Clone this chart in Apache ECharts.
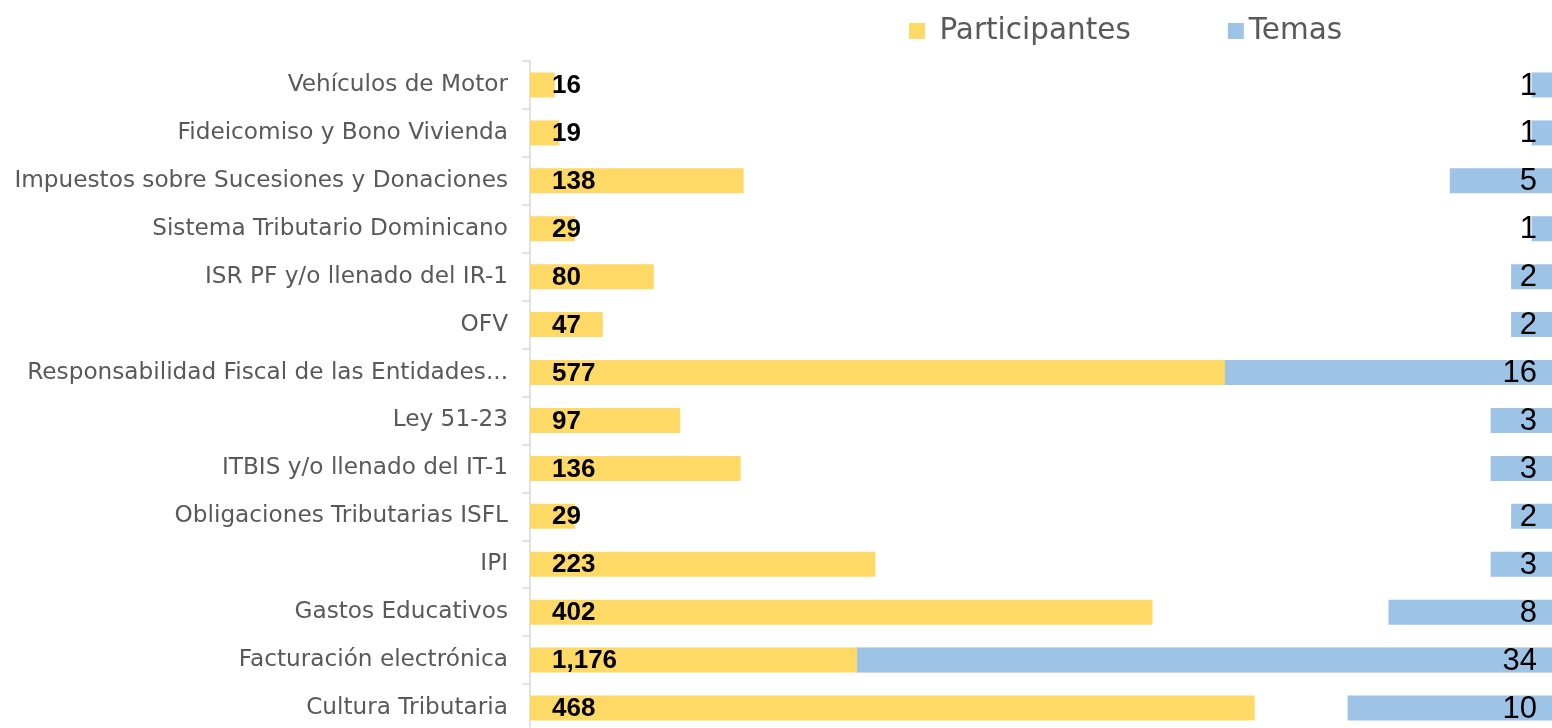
<!DOCTYPE html>
<html>
<head>
<meta charset="utf-8">
<script src="https://cdn.jsdelivr.net/npm/echarts@6/dist/echarts.min.js"></script>
<style>
html,body{margin:0;padding:0;background:#fff;overflow:hidden;}
#chart{width:1552px;height:740px;}
</style>
</head>
<body>
<div id="chart"></div>
<script>
const categories = [
  "Vehículos de Motor",
  "Fideicomiso y Bono Vivienda",
  "Impuestos sobre Sucesiones y Donaciones",
  "Sistema Tributario Dominicano",
  "ISR PF y/o llenado del IR-1",
  "OFV",
  "Responsabilidad Fiscal de las Entidades...",
  "Ley 51-23",
  "ITBIS y/o llenado del IT-1",
  "Obligaciones Tributarias ISFL",
  "IPI",
  "Gastos Educativos",
  "Facturación electrónica",
  "Cultura Tributaria"
];
const participantes = [16, 19, 138, 29, 80, 47, 577, 97, 136, 29, 223, 402, 1176, 468];
const temas = [1, 1, 5, 1, 2, 2, 16, 3, 3, 2, 3, 8, 34, 10];

const chart = echarts.init(document.getElementById('chart'), null, {renderer: 'canvas'});
chart.setOption({
  animation: false,
  backgroundColor: '#ffffff',
  legend: {
    data: ['Participantes', 'Temas'],
    left: 904,
    top: 11,
    icon: 'rect',
    itemWidth: 16,
    itemHeight: 16,
    itemGap: 97,
    formatter: function (n) { return n === 'Participantes' ? ' ' + n : n; },
    textStyle: {fontFamily: 'DejaVu Sans', fontSize: 29.5, color: '#595959'}
  },
  grid: {left: 530, right: 0, top: 61, height: 671, containLabel: false},
  xAxis: [
    {type: 'value', min: 0, max: 660, show: false},
    {type: 'value', min: 0, max: 50, inverse: true, show: false}
  ],
  yAxis: {
    type: 'category',
    data: categories,
    inverse: true,
    axisLine: {show: true, lineStyle: {color: '#D9D9D9', width: 1.5}},
    axisTick: {show: true, length: 8, lineStyle: {color: '#D9D9D9', width: 1.5}},
    axisLabel: {fontFamily: 'DejaVu Sans', fontSize: 23.2, color: '#595959', margin: 22, padding: [3, 0, 0, 0]}
  },
  series: [
    {
      name: 'Participantes',
      type: 'bar',
      xAxisIndex: 0,
      data: participantes,
      barWidth: 25,
      barGap: '-100%',
      itemStyle: {color: '#FFD966'},
      z: 2,
      label: {
        show: true,
        position: 'insideLeft',
        distance: 22,
        offset: [0, 1],
        fontFamily: 'Liberation Sans',
        fontWeight: 'bold',
        fontSize: 26,
        color: '#000000',
        formatter: function (p) { return p.value.toLocaleString('en-US'); }
      }
    },
    {
      name: 'Temas',
      type: 'bar',
      xAxisIndex: 1,
      data: temas,
      barWidth: 25,
      barGap: '-100%',
      itemStyle: {color: '#9DC3E6'},
      z: 3,
      label: {
        show: true,
        position: 'insideRight',
        distance: 15,
        offset: [0, 1],
        fontFamily: 'Liberation Sans',
        fontSize: 31,
        color: '#000000'
      }
    }
  ]
});
</script>
</body>
</html>
